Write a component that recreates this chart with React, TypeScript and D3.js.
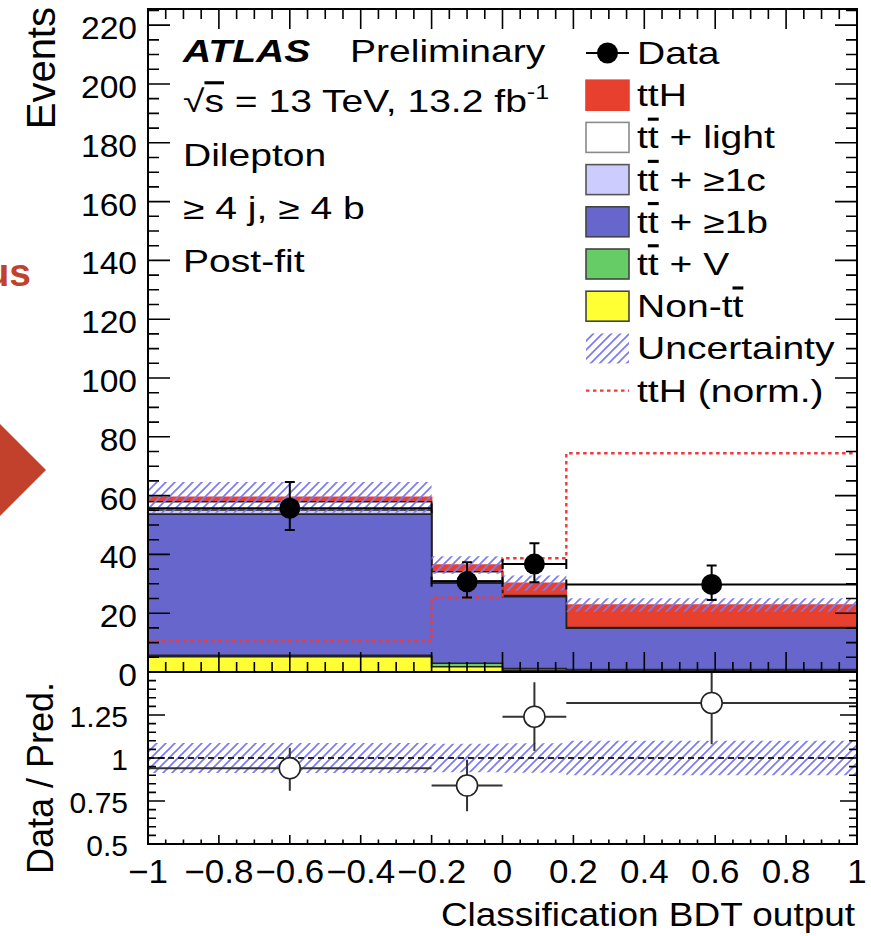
import React from 'react';
import * as d3 from 'd3';

// bin edges of the classification BDT output
const binEdges = [-1, -0.2, 0, 0.18, 1];

// post-fit stack components (events per bin), bottom to top
const nonTT = [5.2, 1.8, 0.6, 0.4];
const ttV = [0.5, 1.2, 0.6, 0.4];
const ttB = [48.0, 27.2, 24.4, 14.1];
const ttC = [1.4, 0.8, 0.2, 0.1];
const ttLight = [2.8, 3.1, 0.2, 0.1];
const ttH = [1.5, 2.3, 4.2, 7.7];
const uncertainty = [5.2, 3.0, 2.6, 2.3];

// ttH normalised to total background (dotted)
const ttHNorm = [10.5, 25.3, 38.7, 74.4];

// data
const dataValues = [55.7, 30.7, 36.7, 29.8];
const dataErrUp = [8.9, 6.6, 7.1, 6.4];
const dataErrDown = [7.4, 5.4, 6.2, 5.3];

// ratio panel
const ratioValues = [0.94, 0.84, 1.24, 1.32];
const ratioErrUp = [0.12, 0.15, 0.2, 0.25];
const ratioErrDown = [0.13, 0.15, 0.2, 0.24];

// ticks
const xTicks = [-1, -0.8, -0.6, -0.4, -0.2, 0, 0.2, 0.4, 0.6, 0.8, 1];
const xTickLabels = ['\u22121', '\u22120.8', '\u22120.6', '\u22120.4', '\u22120.2', '0', '0.2', '0.4', '0.6', '0.8', '1'];
const yTicks = [0, 20, 40, 60, 80, 100, 120, 140, 160, 180, 200, 220];
const ratioTicks = [0.5, 0.75, 1, 1.25];
const ratioTickLabels = ['0.5', '0.75', '1', '1.25'];

const legendItems = [
  { key: 'data', label: 'Data' },
  { key: 'tth', label: 'ttH', fill: '#e8402f', stroke: '#e8402f' },
  { key: 'light', label: 'light', tt: true, fill: '#ffffff', stroke: '#8a8a8a' },
  { key: 'c', label: '\u22651c', tt: true, fill: '#ccccff', stroke: '#555' },
  { key: 'b', label: '\u22651b', tt: true, fill: '#6666cc', stroke: '#444' },
  { key: 'v', label: 'V', tt: true, fill: '#66cc66', stroke: '#444' },
  { key: 'nontt', label: 'Non-tt', fill: '#ffff33', stroke: '#444' },
  { key: 'unc', label: 'Uncertainty' },
  { key: 'norm', label: 'ttH (norm.)' },
];

const W = 871;
const H = 936;
const left = 148;
const right = 857;
const mainTop = 9;
const mainBottom = 672;
const ratioBottom = 844;
const font = '"Liberation Sans", Arial, Helvetica, sans-serif';

const App: React.FC = () => {
  const x = d3.scaleLinear().domain([-1, 1]).range([left, right]);
  const y = d3.scaleLinear().domain([0, 225.5]).range([mainBottom, mainTop]);
  const yr = d3.scaleLinear().domain([0.5, 1.5]).range([ratioBottom, mainBottom]);

  const n = binEdges.length - 1;
  const layers = [
    { vals: nonTT, fill: '#ffff33', stroke: '#222' },
    { vals: ttV, fill: '#66cc66', stroke: '#222' },
    { vals: ttB, fill: '#6666cc', stroke: '#222' },
    { vals: ttC, fill: '#ccccff', stroke: '#222' },
    { vals: ttLight, fill: '#ffffff', stroke: '#222' },
    { vals: ttH, fill: '#e8402f', stroke: '#e8402f' },
  ];
  const cum: number[][] = [];
  layers.forEach((l, k) => {
    cum.push(l.vals.map((v, i) => v + (k > 0 ? cum[k - 1][i] : 0)));
  });
  const total = cum[cum.length - 1];

  const pts = (lo: number[], hi: number[]) =>
    binEdges.map((e, i) => [e, lo[Math.min(i, n - 1)], hi[Math.min(i, n - 1)]] as [number, number, number]);

  const stepArea = (ys: d3.ScaleLinear<number, number>) =>
    d3.area<[number, number, number]>()
      .curve(d3.curveStepAfter)
      .x(d => x(d[0]))
      .y0(d => ys(d[1]))
      .y1(d => ys(d[2]));

  const zeros = binEdges.slice(0, n).map(() => 0);
  const bandLo = total.map((t, i) => t - uncertainty[i]);
  const bandHi = total.map((t, i) => t + uncertainty[i]);
  const rLo = total.map((t, i) => 1 - uncertainty[i] / t);
  const rHi = total.map((t, i) => 1 + uncertainty[i] / t);

  const normLine = d3.line<[number, number, number]>()
    .curve(d3.curveStepAfter)
    .x(d => x(d[0]))
    .y(d => y(d[2]))(pts(zeros, ttHNorm)) || '';

  // tick paths
  let tickPath = '';
  d3.range(-1, 1.0001, 0.05).forEach(v => {
    const major = Math.abs(v * 5 - Math.round(v * 5)) < 1e-6;
    const px = x(v);
    const lm = major ? 20 : 10;
    tickPath += `M${px},${mainBottom}v${-lm}M${px},${mainTop}v${lm}`;
    const lr = major ? 9 : 4.5;
    tickPath += `M${px},${ratioBottom}v${-lr}`;
  });
  d3.range(0, 225.5, 5).forEach(v => {
    const major = v % 20 === 0;
    const py = y(v);
    const l = major ? 22 : 11;
    tickPath += `M${left},${py}h${l}M${right},${py}h${-l}`;
  });
  d3.range(0.5, 1.5001, 0.05).forEach(v => {
    const major = Math.abs(v * 4 - Math.round(v * 4)) < 1e-6;
    const py = yr(v);
    const l = major ? 17 : 8;
    tickPath += `M${left},${py}h${l}M${right},${py}h${-l}`;
  });

  const tx = (px: number, py: number, s: number) => `translate(${px},${py}) scale(${s},1)`;
  const ttBar = (
    <>
      <tspan>t</tspan>
      <tspan style={{ textDecoration: 'overline' }}>t</tspan>
    </>
  );

  const legX = 586;
  const legW = 43;
  const legRow0 = 53;
  const legStep = 42.2;

  return (
    <svg width={W} height={H} style={{ position: 'absolute', left: 0, top: 0, background: '#fff' }} fontFamily={font}>
      <defs>
        <pattern id="hatch" width={9} height={9} patternUnits="userSpaceOnUse">
          <path d="M0,9L9,0M-2,2L2,-2M7,11L11,7" stroke="#7a7af5" strokeWidth={1.7} />
        </pattern>
        <clipPath id="ratioClip">
          <rect x={left} y={mainBottom} width={right - left} height={ratioBottom - mainBottom} />
        </clipPath>
        <clipPath id="mainClip">
          <rect x={left} y={mainTop} width={right - left} height={mainBottom - mainTop} />
        </clipPath>
      </defs>

      {/* slide remnants at the left edge */}
      <text x={31} y={286} textAnchor="end" fontSize={39} fontWeight="bold" fill="#c2412d">us</text>
      <polygon points="0,424 46,470 0,516" fill="#c2412d" />

      {/* main panel stack */}
      <g clipPath="url(#mainClip)">
        {layers.map((l, k) => ({ l, k })).reverse().map(({ l, k }) => (
          <path key={k} d={stepArea(y)(pts(zeros, cum[k])) || ''} fill={l.fill} stroke={l.stroke} strokeWidth={1.6} />
        ))}
        <path d={stepArea(y)(pts(bandLo, bandHi)) || ''} fill="url(#hatch)" />
        <path d={normLine} fill="none" stroke="#f03a3a" strokeWidth={2.4} strokeDasharray="3.5 3.5" />
        {dataValues.map((v, i) => {
          const x0 = x(binEdges[i]);
          const x1 = x(binEdges[i + 1]);
          const cx = (x0 + x1) / 2;
          const cy = y(v);
          const yu = y(v + dataErrUp[i]);
          const yd = y(v - dataErrDown[i]);
          return (
            <g key={i} stroke="#000" strokeWidth={2}>
              <path d={`M${x0},${cy}H${x1}M${x0},${cy - 5}v10M${x1},${cy - 5}v10M${cx},${yu}V${yd}M${cx - 5},${yu}h10M${cx - 5},${yd}h10`} fill="none" />
              <circle cx={cx} cy={cy} r={10.5} fill="#000" stroke="none" />
            </g>
          );
        })}
      </g>

      {/* ratio panel */}
      <g clipPath="url(#ratioClip)">
        <path d={stepArea(yr)(pts(rLo, rHi)) || ''} fill="url(#hatch)" />
        <line x1={left} x2={right} y1={yr(1)} y2={yr(1)} stroke="#222" strokeWidth={2} strokeDasharray="6 4" />
        {ratioValues.map((v, i) => {
          const x0 = x(binEdges[i]);
          const x1 = x(binEdges[i + 1]);
          const cx = (x0 + x1) / 2;
          const cy = yr(v);
          return (
            <g key={i} stroke="#333" strokeWidth={2}>
              <path d={`M${x0},${cy}H${x1}M${cx},${yr(v + ratioErrUp[i])}V${yr(v - ratioErrDown[i])}`} fill="none" />
              <circle cx={cx} cy={cy} r={10.5} fill="#fff" stroke="#222" strokeWidth={1.6} />
            </g>
          );
        })}
      </g>

      {/* ticks and frames */}
      <path d={tickPath} stroke="#000" strokeWidth={1.6} fill="none" />
      <rect x={left} y={mainTop} width={right - left} height={mainBottom - mainTop} fill="none" stroke="#000" strokeWidth={2} />
      <rect x={left} y={mainBottom} width={right - left} height={ratioBottom - mainBottom} fill="none" stroke="#000" strokeWidth={2} />

      {/* tick labels */}
      {yTicks.map(t => (
        <text key={t} transform={tx(137, y(t) + 14, 1.05)} textAnchor="end" fontSize={32}>{t}</text>
      ))}
      {ratioTicks.map((t, i) => (
        <text key={t} transform={tx(128, yr(t) + 12, 1)} textAnchor="end" fontSize={30}>{ratioTickLabels[i]}</text>
      ))}
      {xTicks.map((t, i) => (
        <text key={t} transform={tx(x(t), 883, 1.06)} textAnchor="middle" fontSize={33}>{xTickLabels[i]}</text>
      ))}

      {/* axis titles */}
      <text transform={tx(855, 926, 1.12)} textAnchor="end" fontSize={33}>Classification BDT output</text>
      <text transform="translate(55,7) rotate(-90)" textAnchor="end" fontSize={40}>Events</text>
      <text transform="translate(53,682) rotate(-90)" textAnchor="end" fontSize={36}>Data / Pred.</text>

      {/* ATLAS label block */}
      <g fontSize={31}>
        <text transform={tx(183, 62, 1.26)} fontWeight="bold" fontStyle="italic">ATLAS</text>
        <text transform={tx(350, 62, 1.26)}>Preliminary</text>
        <text transform={tx(183, 112, 1.26)}>
          <tspan>{'\u221A'}</tspan>
          <tspan style={{ textDecoration: 'overline' }}>s</tspan>
          <tspan>{' = 13 TeV, 13.2 fb'}</tspan>
          <tspan fontSize={20} dy={-13}>-1</tspan>
        </text>
        <text transform={tx(183, 166, 1.26)}>Dilepton</text>
        <text transform={tx(183, 219, 1.26)}>{'\u2265 4 j, \u2265 4 b'}</text>
        <text transform={tx(183, 272, 1.26)}>Post-fit</text>
      </g>

      {/* legend */}
      <g fontSize={31}>
        {legendItems.map((it, k) => {
          const cy = legRow0 + legStep * k;
          let marker: React.ReactNode = null;
          if (it.key === 'data') {
            marker = (
              <g>
                <line x1={legX} x2={legX + legW} y1={cy} y2={cy} stroke="#000" strokeWidth={2} />
                <circle cx={legX + legW / 2} cy={cy} r={10.5} fill="#000" />
              </g>
            );
          } else if (it.key === 'unc') {
            marker = <rect x={legX} y={cy - 15} width={legW} height={30} fill="url(#hatch)" />;
          } else if (it.key === 'norm') {
            marker = <line x1={legX} x2={legX + legW} y1={cy} y2={cy} stroke="#f03a3a" strokeWidth={2.4} strokeDasharray="3.5 3.5" />;
          } else {
            marker = <rect x={legX} y={cy - 15} width={legW} height={30} fill={it.fill} stroke={it.stroke} strokeWidth={1.6} />;
          }
          return (
            <g key={it.key}>
              {marker}
              <text transform={tx(637, cy + 11, 1.26)}>
                {it.tt ? (<>{ttBar}<tspan>{' + ' + it.label}</tspan></>) : it.key === 'nontt' ? (<><tspan>Non-t</tspan><tspan style={{ textDecoration: 'overline' }}>t</tspan></>) : it.label}
              </text>
            </g>
          );
        })}
      </g>
    </svg>
  );
};

export default App;
